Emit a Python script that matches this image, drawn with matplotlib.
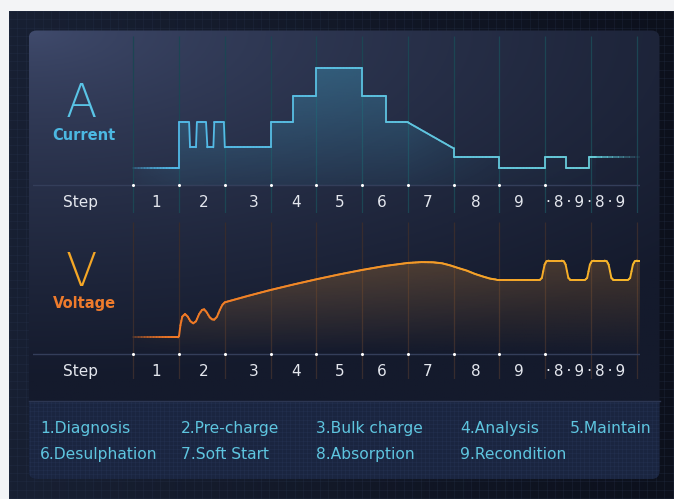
import numpy as np
import matplotlib
matplotlib.use("Agg")
import matplotlib.pyplot as plt
from matplotlib.patches import FancyBboxPatch, Rectangle
from matplotlib.collections import LineCollection
from matplotlib.colors import to_rgb

W, H = 674, 499

# ----------------------------------------------------------------------
# datos (x en unidades de "paso": rejilla k = 0..11)
# ----------------------------------------------------------------------
step_labels = ["1", "2", "3", "4", "5", "6", "7", "8", "9", "·\u20098\u2009·\u20099\u2009·\u20098\u2009·\u20099"]
step_pos = [0.49, 1.53, 2.63, 3.55, 4.51, 5.42, 6.44, 7.48, 8.43, 9.88]

legend_row1 = ["1.Diagnosis", "2.Pre-charge", "3.Bulk charge", "4.Analysis", "5.Maintain"]
legend_row2 = ["6.Desulphation", "7.Soft Start", "8.Absorption", "9.Recondition"]

# corriente (unidades relativas)
cur_x = [0.0, 1.0, 1.0, 1.22, 1.24, 1.37, 1.39, 1.59, 1.62, 1.75, 1.77, 1.98, 2.0,
         3.0, 3.0, 3.49, 3.49, 4.0, 4.0, 5.0, 5.0, 5.52, 5.52, 6.0, 7.0, 7.0,
         8.0, 8.0, 9.0, 9.0, 9.45, 9.45, 9.95, 9.95, 10.12]
cur_y = [2.5, 2.5, 9.4, 9.4, 5.65, 5.65, 9.4, 9.4, 5.65, 5.65, 9.4, 9.4, 5.65,
         5.65, 9.4, 9.4, 13.4, 13.4, 17.5, 17.5, 13.4, 13.4, 9.4, 9.4, 5.5, 4.25,
         4.25, 2.5, 2.5, 4.25, 4.25, 2.5, 2.5, 4.25, 4.25]
cur_tail_x = [10.12, 11.08]
cur_tail_y = [4.25, 4.25]

# tension (unidades relativas)
volt_x = [0.0, 0.98, 1.0, 1.03, 1.07, 1.13, 1.19, 1.25, 1.31, 1.37, 1.44, 1.50, 1.55,
          1.61, 1.67, 1.72, 1.77, 1.83, 1.89, 1.95, 2.0, 2.5, 3.0, 3.5, 4.0, 4.5,
          5.0, 5.5, 6.0, 6.3, 6.55, 6.75, 6.92, 7.1, 7.29, 7.47, 7.65, 7.8, 7.94,
          8.89, 8.93, 8.96, 8.99, 9.03, 9.08, 9.36, 9.41, 9.45, 9.48, 9.51, 9.55,
          9.88, 9.92, 9.95, 9.98, 10.02, 10.07, 10.30, 10.35, 10.39, 10.42, 10.45, 10.49,
          10.82, 10.86, 10.89, 10.92, 10.96, 11.01, 11.08]
volt_y = [2.5, 2.5, 2.7, 4.3, 5.6, 6.0, 5.6, 4.9, 4.6, 4.9, 6.0, 6.6, 6.7,
          6.2, 5.5, 5.2, 5.15, 5.6, 6.6, 7.4, 7.75, 8.7, 9.6, 10.42, 11.2, 11.93,
          12.6, 13.2, 13.65, 13.78, 13.75, 13.6, 13.3, 12.9, 12.5, 12.0, 11.6, 11.3, 11.15,
          11.15, 11.4, 12.4, 13.4, 13.9, 14.0, 14.0, 13.9, 13.4, 12.4, 11.4, 11.15,
          11.15, 11.4, 12.4, 13.4, 13.9, 14.0, 14.0, 13.9, 13.4, 12.4, 11.4, 11.15,
          11.15, 11.4, 12.4, 13.4, 13.9, 14.0, 14.0]

# ----------------------------------------------------------------------
X0, DX, SY = 133.3, 45.75, 6.67   # pixel de k=0, pixeles por paso, pixeles por unidad

fig = plt.figure(figsize=(W / 100, H / 100), dpi=100, facecolor="#f3f4f6")
bg = fig.add_axes([0, 0, 1, 1])
bg.set_xlim(0, W); bg.set_ylim(H, 0); bg.axis("off")


def lerp(c1, c2, t):
    c1, c2 = np.array(to_rgb(c1)), np.array(to_rgb(c2))
    t = np.asarray(t)[..., None]
    return c1 + (c2 - c1) * t


# fondo oscuro con rejilla
u = np.linspace(0, 1, 200)[None, :] * np.ones((120, 1))
bg.imshow(lerp("#182033", "#0c101c", u), extent=(9, W, H, 11), aspect="auto", zorder=0)
for xg in np.arange(9, W, 8.4):
    bg.plot([xg, xg], [11, H], color="#2a3650", lw=0.5, alpha=0.35, zorder=1)
for yg in np.arange(11, H, 8.4):
    bg.plot([9, W], [yg, yg], color="#2a3650", lw=0.5, alpha=0.35, zorder=1)

# panel redondeado con degradado
panel = FancyBboxPatch((28.7, 30.5), 630.8, 448.5, boxstyle="round,pad=0,rounding_size=8",
                       facecolor="none", edgecolor="none", zorder=2)
bg.add_patch(panel)
yy, xx = np.mgrid[0:1:200j, 0:1:300j]
d = np.clip(np.sqrt((xx * 0.9) ** 2 + (yy * 1.6) ** 2) / 1.25, 0, 1) ** 0.7
img = bg.imshow(lerp("#414c6e", "#141a2c", d), extent=(28.7, 659.5, 479, 30.5),
                aspect="auto", zorder=2)
img.set_clip_path(panel)

# franja de leyenda
leg = Rectangle((28.7, 401), 630.8, 78, facecolor="#1a2540", edgecolor="none", zorder=3)
bg.add_patch(leg); leg.set_clip_path(panel)
for xg in np.arange(30, 660, 4.2):
    ln, = bg.plot([xg, xg], [401, 479], color="#2f4166", lw=0.4, alpha=0.35, zorder=3)
    ln.set_clip_path(panel)
for yg in np.arange(403, 479, 4.2):
    ln, = bg.plot([28.7, 659.5], [yg, yg], color="#2f4166", lw=0.4, alpha=0.35, zorder=3)
    ln.set_clip_path(panel)
bg.plot([28.7, 659.5], [401, 401], color="#2c3652", lw=1.0, zorder=3)

for row, y in ((legend_row1, 433.3), (legend_row2, 459.3)):
    for lab, x in zip(row, [40, 180.6, 316, 460, 569.7]):
        bg.text(x, y, lab, color="#5ec5df", fontsize=11.2, ha="left", va="baseline", zorder=4)

# titulos laterales
bg.text(81.5, 117, "A", fontsize=33, color="#5ac4e6", ha="center", va="baseline",
        fontweight="light", zorder=4)
bg.text(84, 139.5, "Current", fontsize=10.5, color="#4cb8e2", ha="center", va="baseline",
        fontweight="bold", zorder=4)
bg.text(81.5, 285.7, "V", fontsize=33, color="#f5a726", ha="center", va="baseline",
        fontweight="light", zorder=4)
bg.text(84, 308, "Voltage", fontsize=10.5, color="#ee7b2c", ha="center", va="baseline",
        fontweight="bold", zorder=4)


def chart_axes(y_top, y_base, y_bot, grid_color):
    ax = fig.add_axes([33 / W, 1 - y_bot / H, (640 - 33) / W, (y_bot - y_top) / H])
    ax.patch.set_alpha(0)
    ax.axis("off")
    lims = ((33 - X0) / DX, (640 - X0) / DX), (-(y_bot - y_base) / SY, (y_base - y_top) / SY)
    ax.vlines(range(12), lims[1][0], lims[1][1], color=grid_color, lw=0.9, zorder=1)
    ax.axhline(0, color="#343e5a", lw=1.0, zorder=2)
    ax.plot(range(10), np.zeros(10), "o", ms=2.2, color="white", mec="none", zorder=6)
    ax.text(-1.165, -3.25, "Step", color="#e4e7ee", fontsize=11, ha="center",
            va="baseline")
    for lab, xp in zip(step_labels, step_pos):
        ax.text(xp, -3.25, lab, color="#e4e7ee", fontsize=11, ha="center",
                va="baseline")
    return ax, lims


def grad_fill(ax, x, y, rgb, a_top, a_bot, ymax, hfade):
    poly = ax.fill_between(x, y, 0, color="none", lw=0)
    ny, nx = 150, 300
    gy, gx = np.mgrid[0:1:complex(ny), 0:1:complex(nx)]
    xs = x[0] + (x[-1] - x[0]) * gx
    alpha = (a_bot + (a_top - a_bot) * gy) * np.interp(xs[0], hfade[0], hfade[1])[None, :]
    rgba = np.zeros((ny, nx, 4))
    rgba[..., :3] = to_rgb(rgb)
    rgba[..., 3] = alpha
    im = ax.imshow(rgba, extent=(x[0], x[-1], 0, ymax), origin="lower", aspect="auto", zorder=3)
    im.set_clip_path(poly.get_paths()[0], transform=ax.transData)


def grad_line(ax, x, y, c_left, c_right, fade_end, lw):
    px, py = [], []
    for i in range(len(x) - 1):
        n = max(2, int(abs(x[i + 1] - x[i]) * 30) + 2)
        t = np.linspace(0, 1, n)[:-1]
        px.extend(x[i] + (x[i + 1] - x[i]) * t)
        py.extend(y[i] + (y[i + 1] - y[i]) * t)
    px.append(x[-1]); py.append(y[-1])
    pts = np.column_stack([px, py])
    segs = np.stack([pts[:-1], pts[1:]], axis=1)
    xm = segs[:, :, 0].mean(axis=1)
    cols = np.zeros((len(segs), 4))
    cols[:, :3] = lerp(c_left, c_right, np.clip(xm / 11.0, 0, 1))
    cols[:, 3] = np.clip(0.15 + 0.85 * xm / fade_end, 0, 1)
    ax.add_collection(LineCollection(segs, colors=cols, linewidths=lw, capstyle="round",
                                     joinstyle="round", zorder=5))


# ---- corriente ----
ax1, lim1 = chart_axes(36.5, 185, 213.5, "#1c4553")
cx, cy = np.array(cur_x), np.array(cur_y)
grad_fill(ax1, cx, cy, "#3f9cc0", 0.42, 0.10, 17.5,
          ([0, 0.2, 1.0, 6.0, 8.0, 10.1], [0.35, 0.6, 1.0, 0.9, 0.35, 0.2]))
grad_line(ax1, cx, cy, "#4fb6e8", "#6ccfd8", 0.9, 1.3)
tx = np.linspace(cur_tail_x[0], cur_tail_x[1], 9)
for i in range(8):
    a = 0.9 - 0.8 * i / 7
    ax1.plot(tx[i:i + 2], [cur_tail_y[0]] * 2, color="#5ec8d6", lw=1.3, alpha=a,
             ls=(0, (3.5, 2.5)) if i % 2 == 0 else "-", zorder=5)
ax1.set_xlim(*lim1[0]); ax1.set_ylim(*lim1[1])

# ---- tension ----
ax2, lim2 = chart_axes(221.5, 354, 379, "#372c2e")
vx, vy = np.array(volt_x), np.array(volt_y)
grad_fill(ax2, vx, vy, "#c9812f", 0.33, 0.0, 14.0,
          ([0, 0.5, 1.0, 2.0, 11.08], [0.4, 0.7, 0.9, 1.0, 0.8]))
grad_line(ax2, vx, vy, "#ef7226", "#f7b82a", 0.9, 1.4)
ax2.set_xlim(*lim2[0]); ax2.set_ylim(*lim2[1])

fig.savefig("out.png", dpi=100, facecolor=fig.get_facecolor())
